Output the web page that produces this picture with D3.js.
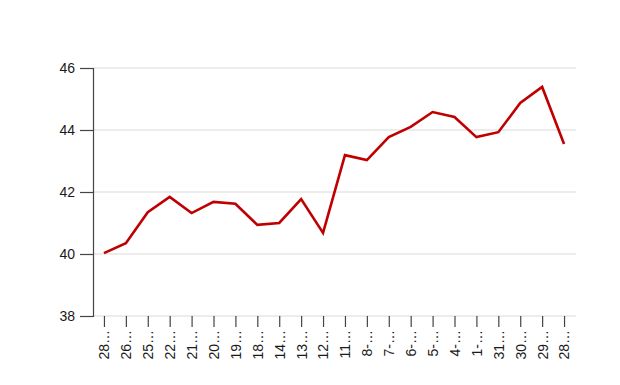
<!DOCTYPE html>
<html>
<head>
<meta charset="utf-8">
<script src="https://cdn.jsdelivr.net/npm/d3@7"></script>
<style>
  body { margin: 0; background: #fff; }
  text { font-family: "Liberation Sans", Arial, sans-serif; }
</style>
</head>
<body>
<div id="chart"></div>
<script>
// tick labels along the bottom (already truncated in the original)
const categories = ["28…","26…","25…","22…","21…","20…","19…","18…","14…","13…","12…",
                    "11…","8-…","7-…","6-…","5-…","4-…","1-…","31…","30…","29…","28…"];
const values = [40.03, 40.35, 41.35, 41.84, 41.32, 41.68, 41.62, 40.94, 41.0, 41.77, 40.68,
                43.19, 43.03, 43.77, 44.1, 44.58, 44.42, 43.77, 43.93, 44.87, 45.39, 43.55];
const yTicks = [38, 40, 42, 44, 46];

const width = 620, height = 385;
const margin = {top: 68, right: 45, bottom: 69, left: 93};

const svg = d3.select("#chart")
              .append("svg")
                .attr("width", width)
                .attr("height", height);

const x = d3.scalePoint()
            .domain(d3.range(categories.length))
            .range([margin.left, width - margin.right])
            .padding(0.5);

const y = d3.scaleLinear()
            .domain([38, 46])
            .range([height - margin.bottom, margin.top]);

// gridlines
svg.append("g")
    .selectAll("line")
    .data(yTicks)
    .enter()
    .append("line")
    .attr("x1", margin.left)
    .attr("x2", width - margin.right + 1)
    .attr("y1", d => y(d))
    .attr("y2", d => y(d))
    .attr("stroke", "#d9d9d9")
    .attr("stroke-width", 1);

// y axis
const yAxis = svg.append("g")
    .attr("transform", "translate(" + margin.left + ",0)")
    .call(d3.axisLeft(y).tickValues(yTicks).tickSize(13).tickPadding(5));
yAxis.attr("font-size", null).attr("font-family", null);
yAxis.select(".domain").attr("stroke", "#444").attr("stroke-width", 1.2);
yAxis.selectAll(".tick line").attr("stroke", "#444").attr("stroke-width", 1.2);
yAxis.selectAll("text")
    .style("font-size", "14px")
    .style("fill", "#1a1a1a");

// x axis
const xAxis = svg.append("g")
    .attr("transform", "translate(0," + (height - margin.bottom) + ")")
    .call(d3.axisBottom(x).tickFormat(i => categories[i]).tickSize(11));
xAxis.attr("font-size", null).attr("font-family", null);
xAxis.select(".domain").remove();
xAxis.selectAll(".tick line").attr("stroke", "#444").attr("stroke-width", 1.2);
xAxis.selectAll("text")
    .style("font-size", "14px")
    .style("fill", "#1a1a1a")
    .attr("transform", "rotate(-90)")
    .attr("text-anchor", "end")
    .attr("dy", "0.35em")
    .attr("y", 0)
    .attr("x", -14);

// line
const line = d3.line()
    .x((d, i) => x(i))
    .y(d => y(d));

svg.append("path")
    .datum(values)
    .attr("fill", "none")
    .attr("stroke", "#c00000")
    .attr("stroke-width", 2.6)
    .attr("d", line);
</script>
</body>
</html>
